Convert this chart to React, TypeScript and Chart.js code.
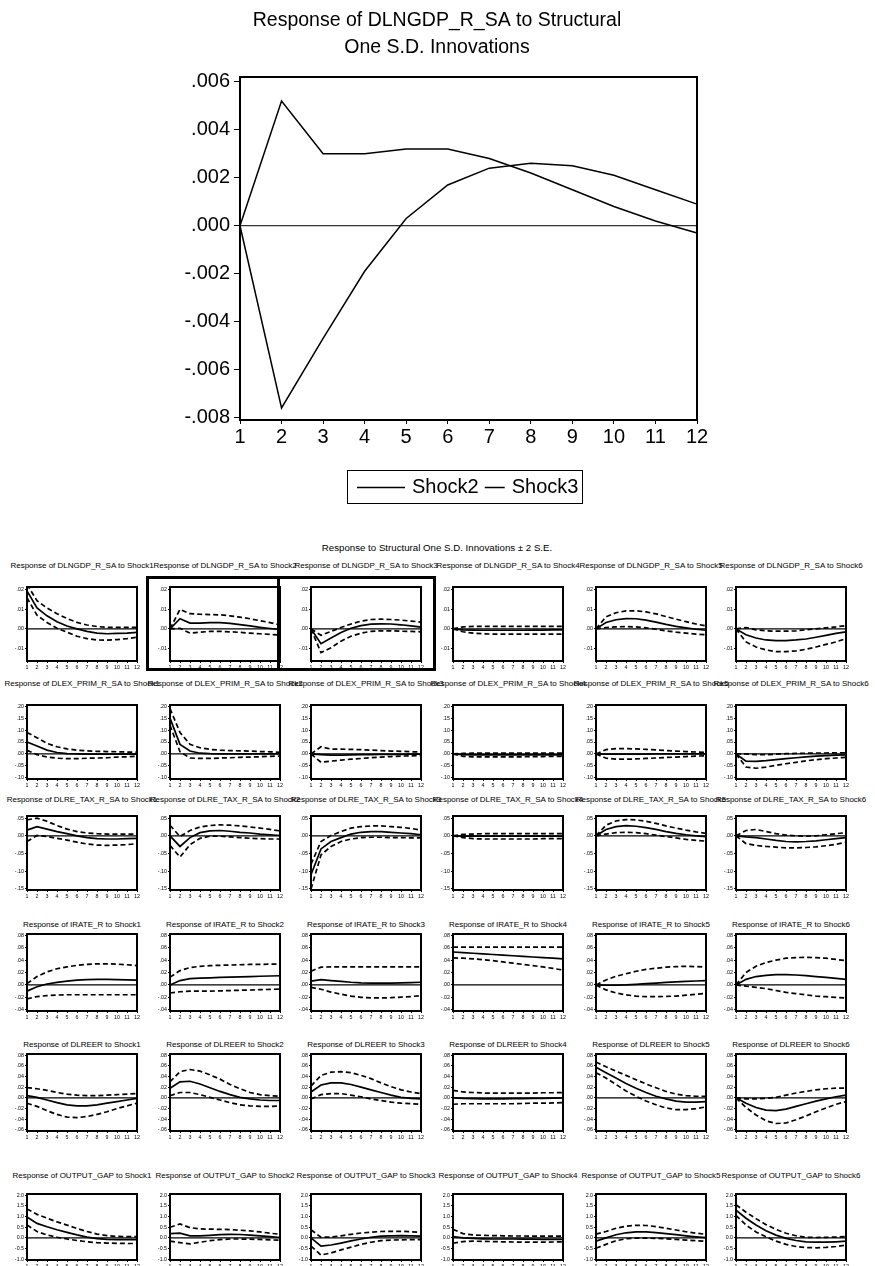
import React, { useEffect, useRef } from "react";
import { Chart, registerables } from "chart.js";

Chart.register(...registerables);

const FONT = '"Liberation Sans", Arial, Helvetica, sans-serif';

// Horizon (periods after the shock)
const periods = ["1", "2", "3", "4", "5", "6", "7", "8", "9", "10", "11", "12"];
const shockNames = ["Shock1", "Shock2", "Shock3", "Shock4", "Shock5", "Shock6"];
const responseVars = ["DLNGDP_R_SA", "DLEX_PRIM_R_SA", "DLRE_TAX_R_SA", "IRATE_R", "DLREER", "OUTPUT_GAP"];

// ---- DLNGDP_R_SA responses (point estimate, +2 S.E., -2 S.E.), one row per shock
const gdpResp = [
  [0.0195, 0.0107, 0.0067, 0.0037, 0.0015, 0.0, -0.0013, -0.0022, -0.0025, -0.0023, -0.0022, -0.0018],
  [0, 0.0052, 0.003, 0.003, 0.0032, 0.0032, 0.0028, 0.0022, 0.0015, 0.0008, 0.0002, -0.0003],
  [0, -0.0076, -0.0047, -0.0019, 0.0003, 0.0017, 0.0024, 0.0026, 0.0025, 0.0021, 0.0015, 0.0009],
  [0, -0.0005, -0.0006, -0.0007, -0.0007, -0.0007, -0.0007, -0.0007, -0.0006, -0.0006, -0.0005, -0.0005],
  [0, 0.0033, 0.0047, 0.0053, 0.0052, 0.0045, 0.0035, 0.0023, 0.0013, 0.0005, -0.0002, -0.0007],
  [0, -0.003, -0.0047, -0.0057, -0.006, -0.006, -0.0057, -0.0052, -0.0043, -0.0033, -0.0023, -0.0015],
];
const gdpUpper = [
  [0.0228, 0.0145, 0.0107, 0.0078, 0.0053, 0.0033, 0.002, 0.0012, 0.0008, 0.0008, 0.0008, 0.0008],
  [0, 0.01, 0.0078, 0.0075, 0.0073, 0.0072, 0.0067, 0.006, 0.0052, 0.0042, 0.0032, 0.002],
  [0, -0.0033, -0.0013, 0.0007, 0.0025, 0.004, 0.0048, 0.005, 0.0048, 0.0045, 0.004, 0.0035],
  [0, 0.001, 0.0013, 0.0013, 0.0013, 0.0013, 0.0013, 0.0013, 0.0013, 0.0013, 0.0013, 0.0013],
  [0, 0.0062, 0.0083, 0.0092, 0.0093, 0.0087, 0.0077, 0.0063, 0.005, 0.0037, 0.0025, 0.0015],
  [0, 0.0007, -0.0005, -0.001, -0.0012, -0.0012, -0.001, -0.0005, 0, 0.0005, 0.001, 0.0017],
];
const gdpLower = [
  [0.016, 0.007, 0.0033, 0.0003, -0.0017, -0.0038, -0.005, -0.0057, -0.0058, -0.0055, -0.005, -0.0043],
  [0, 0.0003, -0.0022, -0.0017, -0.0013, -0.0013, -0.0015, -0.0018, -0.0022, -0.0025, -0.0028, -0.0032],
  [0, -0.0122, -0.0097, -0.0063, -0.0038, -0.0022, -0.0013, -0.001, -0.001, -0.0012, -0.0013, -0.0015],
  [0, -0.0015, -0.0022, -0.0025, -0.0027, -0.0027, -0.0027, -0.0027, -0.0027, -0.0027, -0.0027, -0.0027],
  [0, 0.0007, 0.001, 0.0012, 0.001, 0.0005, -0.0002, -0.001, -0.0017, -0.0022, -0.0027, -0.003],
  [0, -0.0067, -0.0093, -0.0108, -0.0117, -0.0117, -0.0113, -0.0105, -0.0093, -0.008, -0.0067, -0.005],
];

// ---- DLEX_PRIM_R_SA
const exResp = [
  [0.05, 0.033, 0.016, 0.006, 0.001, 0, -0.001, -0.001, -0.001, -0.001, -0.001, -0.001],
  [0.15, 0.04, 0.012, 0.003, 0.001, 0, 0, 0, 0, 0, 0, 0],
  [0, -0.003, -0.005, -0.005, -0.004, -0.003, -0.003, -0.002, -0.002, -0.002, -0.001, -0.001],
  [0, -0.003, -0.004, -0.004, -0.004, -0.004, -0.004, -0.004, -0.004, -0.004, -0.004, -0.004],
  [0, -0.001, -0.001, -0.001, -0.001, -0.001, 0, 0, 0, 0, 0, 0],
  [0, -0.03, -0.031, -0.028, -0.024, -0.02, -0.016, -0.012, -0.009, -0.007, -0.005, -0.004],
];
const exUpper = [
  [0.09, 0.068, 0.044, 0.03, 0.021, 0.016, 0.013, 0.011, 0.01, 0.009, 0.008, 0.007],
  [0.19, 0.09, 0.04, 0.026, 0.019, 0.016, 0.014, 0.013, 0.012, 0.01, 0.009, 0.007],
  [0, 0.03, 0.02, 0.02, 0.019, 0.018, 0.016, 0.014, 0.012, 0.011, 0.009, 0.008],
  [0, 0.002, 0.003, 0.003, 0.003, 0.003, 0.003, 0.003, 0.003, 0.003, 0.003, 0.003],
  [0, 0.018, 0.022, 0.022, 0.021, 0.019, 0.017, 0.014, 0.012, 0.01, 0.008, 0.006],
  [0, 0, -0.003, -0.003, -0.001, 0.001, 0.002, 0.003, 0.004, 0.004, 0.005, 0.005],
];
const exLower = [
  [0.015, -0.003, -0.013, -0.018, -0.02, -0.02, -0.018, -0.017, -0.016, -0.013, -0.012, -0.01],
  [0.12, 0.009, -0.017, -0.019, -0.019, -0.017, -0.016, -0.014, -0.013, -0.012, -0.01, -0.009],
  [0, -0.035, -0.03, -0.026, -0.022, -0.019, -0.016, -0.013, -0.011, -0.009, -0.008, -0.007],
  [0, -0.01, -0.012, -0.012, -0.012, -0.012, -0.012, -0.012, -0.011, -0.011, -0.01, -0.01],
  [0, -0.018, -0.022, -0.022, -0.021, -0.019, -0.017, -0.015, -0.013, -0.011, -0.009, -0.008],
  [0, -0.055, -0.06, -0.055, -0.048, -0.041, -0.035, -0.029, -0.024, -0.02, -0.017, -0.014],
];

// ---- DLRE_TAX_R_SA
const taxResp = [
  [0.016, 0.026, 0.019, 0.012, 0.006, 0, -0.005, -0.008, -0.009, -0.009, -0.008, -0.007],
  [0, -0.03, -0.005, 0.009, 0.014, 0.015, 0.013, 0.01, 0.008, 0.005, 0.003, 0.001],
  [-0.11, -0.037, -0.016, -0.005, 0.005, 0.01, 0.012, 0.012, 0.01, 0.008, 0.006, 0.003],
  [0, -0.001, -0.001, -0.001, -0.001, -0.001, -0.001, -0.001, -0.001, -0.001, -0.001, -0.001],
  [0, 0.018, 0.026, 0.029, 0.027, 0.023, 0.018, 0.012, 0.007, 0.003, 0, -0.002],
  [0, -0.003, -0.005, -0.009, -0.013, -0.016, -0.017, -0.016, -0.014, -0.011, -0.008, -0.005],
];
const taxUpper = [
  [0.045, 0.05, 0.041, 0.029, 0.019, 0.012, 0.008, 0.006, 0.005, 0.005, 0.005, 0.005],
  [0.03, -0.002, 0.015, 0.025, 0.029, 0.031, 0.03, 0.028, 0.025, 0.022, 0.018, 0.014],
  [-0.08, -0.016, 0.001, 0.012, 0.022, 0.026, 0.028, 0.028, 0.026, 0.024, 0.021, 0.016],
  [0, 0.004, 0.005, 0.006, 0.006, 0.006, 0.006, 0.006, 0.006, 0.006, 0.006, 0.006],
  [0, 0.03, 0.042, 0.046, 0.045, 0.041, 0.035, 0.028, 0.022, 0.016, 0.011, 0.007],
  [0, 0.015, 0.018, 0.012, 0.006, 0.002, 0, -0.001, 0, 0.003, 0.006, 0.009],
];
const taxLower = [
  [-0.016, 0.001, -0.002, -0.007, -0.012, -0.018, -0.023, -0.026, -0.027, -0.026, -0.025, -0.022],
  [-0.027, -0.06, -0.025, -0.007, -0.001, -0.001, -0.003, -0.005, -0.007, -0.008, -0.009, -0.009],
  [-0.15, -0.054, -0.03, -0.016, -0.009, -0.005, -0.004, -0.004, -0.005, -0.005, -0.006, -0.006],
  [0, -0.005, -0.008, -0.009, -0.009, -0.009, -0.009, -0.009, -0.009, -0.008, -0.008, -0.008],
  [0, 0.005, 0.009, 0.01, 0.009, 0.006, 0.002, -0.002, -0.006, -0.01, -0.013, -0.015],
  [0, -0.022, -0.027, -0.03, -0.032, -0.034, -0.034, -0.033, -0.031, -0.028, -0.024, -0.018],
];

// ---- IRATE_R
const rateResp = [
  [-0.01, -0.003, 0.0015, 0.004, 0.006, 0.0077, 0.0086, 0.009, 0.009, 0.0086, 0.008, 0.0077],
  [0, 0.007, 0.01, 0.011, 0.0115, 0.012, 0.0125, 0.013, 0.0134, 0.014, 0.0144, 0.0148],
  [0.006, 0.0086, 0.007, 0.0057, 0.0043, 0.0033, 0.0029, 0.0029, 0.0029, 0.0033, 0.0038, 0.0043],
  [0.053, 0.052, 0.051, 0.05, 0.049, 0.048, 0.047, 0.046, 0.045, 0.044, 0.043, 0.042],
  [0, -0.0005, -0.0005, 0, 0.001, 0.002, 0.003, 0.004, 0.005, 0.0057, 0.0063, 0.007],
  [0, 0.009, 0.0135, 0.0155, 0.0165, 0.0165, 0.016, 0.015, 0.0135, 0.012, 0.0105, 0.009],
];
const rateUpper = [
  [0.002, 0.0134, 0.021, 0.026, 0.029, 0.0316, 0.033, 0.034, 0.034, 0.0335, 0.0325, 0.031],
  [0.0125, 0.023, 0.028, 0.03, 0.031, 0.0316, 0.032, 0.0325, 0.033, 0.033, 0.0335, 0.0335],
  [0.022, 0.0287, 0.029, 0.029, 0.029, 0.029, 0.029, 0.029, 0.029, 0.029, 0.029, 0.029],
  [0.061, 0.061, 0.061, 0.061, 0.061, 0.061, 0.061, 0.061, 0.061, 0.061, 0.061, 0.061],
  [0, 0.008, 0.014, 0.018, 0.022, 0.025, 0.027, 0.0285, 0.0295, 0.03, 0.0295, 0.029],
  [0, 0.02, 0.03, 0.036, 0.04, 0.043, 0.044, 0.0445, 0.044, 0.043, 0.041, 0.039],
];
const rateLower = [
  [-0.0225, -0.0187, -0.0172, -0.0163, -0.0158, -0.0158, -0.0158, -0.0158, -0.0158, -0.0158, -0.0158, -0.0158],
  [-0.013, -0.011, -0.01, -0.01, -0.01, -0.0096, -0.0091, -0.0086, -0.0082, -0.0077, -0.0072, -0.0067],
  [-0.004, -0.007, -0.0115, -0.015, -0.018, -0.02, -0.021, -0.021, -0.0206, -0.0196, -0.0187, -0.0172],
  [0.0435, 0.043, 0.042, 0.0405, 0.039, 0.037, 0.035, 0.033, 0.031, 0.029, 0.0265, 0.024],
  [0, -0.008, -0.013, -0.016, -0.018, -0.019, -0.019, -0.0185, -0.018, -0.0165, -0.015, -0.0135],
  [0, -0.002, -0.004, -0.006, -0.009, -0.012, -0.014, -0.016, -0.018, -0.019, -0.02, -0.021],
];

// ---- DLREER
const reerResp = [
  [0.004, 0.001, -0.004, -0.009, -0.013, -0.015, -0.015, -0.013, -0.01, -0.007, -0.004, -0.001],
  [0.018, 0.03, 0.031, 0.026, 0.019, 0.012, 0.006, 0.001, -0.002, -0.004, -0.005, -0.005],
  [0.011, 0.024, 0.028, 0.028, 0.025, 0.02, 0.015, 0.01, 0.005, 0.001, -0.001, -0.002],
  [0, -0.001, -0.0015, -0.002, -0.002, -0.002, -0.0015, -0.0015, -0.001, -0.001, -0.0005, 0],
  [0.057, 0.047, 0.037, 0.027, 0.018, 0.01, 0.003, -0.002, -0.006, -0.008, -0.008, -0.007],
  [0, -0.01, -0.018, -0.023, -0.024, -0.021, -0.016, -0.011, -0.006, -0.002, 0.002, 0.005],
];
const reerUpper = [
  [0.019, 0.017, 0.014, 0.01, 0.007, 0.005, 0.004, 0.004, 0.005, 0.006, 0.007, 0.008],
  [0.03, 0.049, 0.053, 0.05, 0.043, 0.035, 0.025, 0.017, 0.01, 0.006, 0.004, 0.003],
  [0.022, 0.042, 0.048, 0.049, 0.047, 0.042, 0.036, 0.028, 0.021, 0.015, 0.011, 0.008],
  [0.014, 0.011, 0.01, 0.009, 0.009, 0.009, 0.009, 0.009, 0.009, 0.0095, 0.0095, 0.01],
  [0.067, 0.058, 0.05, 0.042, 0.034, 0.026, 0.019, 0.012, 0.007, 0.004, 0.003, 0.003],
  [0, -0.002, -0.002, -0.001, 0.001, 0.005, 0.009, 0.012, 0.015, 0.017, 0.018, 0.018],
];
const reerLower = [
  [-0.01, -0.016, -0.024, -0.031, -0.036, -0.037, -0.035, -0.031, -0.026, -0.02, -0.015, -0.01],
  [0.004, 0.01, 0.01, 0.006, 0.001, -0.004, -0.009, -0.013, -0.015, -0.016, -0.016, -0.015],
  [-0.002, 0.006, 0.008, 0.008, 0.005, 0.002, -0.002, -0.005, -0.008, -0.01, -0.011, -0.012],
  [-0.012, -0.011, -0.011, -0.011, -0.011, -0.011, -0.011, -0.0105, -0.01, -0.01, -0.0095, -0.009],
  [0.047, 0.037, 0.025, 0.013, 0.003, -0.006, -0.013, -0.019, -0.022, -0.022, -0.02, -0.017],
  [0, -0.018, -0.032, -0.043, -0.048, -0.047, -0.041, -0.034, -0.026, -0.019, -0.012, -0.007],
];

// ---- OUTPUT_GAP
const gapResp = [
  [0.98, 0.68, 0.52, 0.38, 0.26, 0.14, 0.04, -0.03, -0.07, -0.08, -0.08, -0.08],
  [0.2, 0.22, 0.1, 0.1, 0.12, 0.15, 0.17, 0.16, 0.13, 0.1, 0.06, 0.02],
  [0, -0.38, -0.33, -0.24, -0.14, -0.05, 0.03, 0.08, 0.1, 0.11, 0.1, 0.08],
  [0.06, 0.0, -0.02, -0.04, -0.05, -0.05, -0.05, -0.06, -0.06, -0.07, -0.07, -0.07],
  [-0.15, 0.0, 0.15, 0.24, 0.28, 0.28, 0.25, 0.2, 0.15, 0.1, 0.05, 0.01],
  [1.3, 0.92, 0.6, 0.33, 0.13, -0.02, -0.12, -0.18, -0.2, -0.2, -0.18, -0.15],
];
const gapUpper = [
  [1.35, 1.1, 0.92, 0.75, 0.6, 0.44, 0.3, 0.18, 0.11, 0.07, 0.06, 0.06],
  [0.5, 0.65, 0.48, 0.42, 0.41, 0.4, 0.39, 0.36, 0.33, 0.28, 0.22, 0.17],
  [0.38, 0.03, 0.04, 0.1, 0.17, 0.23, 0.27, 0.3, 0.31, 0.31, 0.29, 0.26],
  [0.4, 0.2, 0.14, 0.12, 0.11, 0.1, 0.09, 0.09, 0.08, 0.08, 0.08, 0.08],
  [0.18, 0.3, 0.45, 0.55, 0.59, 0.58, 0.53, 0.45, 0.37, 0.29, 0.22, 0.17],
  [1.55, 1.2, 0.9, 0.62, 0.4, 0.22, 0.1, 0.03, 0.02, 0.03, 0.04, 0.06],
];
const gapLower = [
  [0.6, 0.3, 0.14, 0.03, -0.05, -0.12, -0.18, -0.22, -0.24, -0.25, -0.26, -0.26],
  [-0.15, -0.22, -0.28, -0.2, -0.13, -0.08, -0.05, -0.05, -0.06, -0.07, -0.09, -0.11],
  [-0.38, -0.8, -0.7, -0.56, -0.43, -0.3, -0.2, -0.13, -0.1, -0.09, -0.08, -0.08],
  [-0.25, -0.17, -0.15, -0.16, -0.17, -0.18, -0.19, -0.2, -0.2, -0.2, -0.19, -0.18],
  [-0.48, -0.3, -0.13, -0.04, -0.01, -0.01, -0.02, -0.04, -0.07, -0.1, -0.13, -0.16],
  [1.05, 0.6, 0.28, 0.05, -0.15, -0.3, -0.4, -0.45, -0.46, -0.44, -0.4, -0.33],
];

// Tick values per response variable
const gdpTicks = [-0.01, 0, 0.01, 0.02];
const exTicks = [-0.1, -0.05, 0, 0.05, 0.1, 0.15, 0.2];
const taxTicks = [-0.15, -0.1, -0.05, 0, 0.05];
const rateTicks = [-0.04, -0.02, 0, 0.02, 0.04, 0.06, 0.08];
const reerTicks = [-0.06, -0.04, -0.02, 0, 0.02, 0.04, 0.06, 0.08];
const gapTicks = [-1.0, -0.5, 0, 0.5, 1.0, 1.5, 2.0];
const topTicks = [-0.008, -0.006, -0.004, -0.002, 0, 0.002, 0.004, 0.006];

const noLead = (d: number) => (v: number) => v.toFixed(d).replace(/^(-?)0\./, "$1.");
const keepLead = (d: number) => (v: number) => v.toFixed(d);

type RowSpec = {
  resp: number[][];
  upper: number[][];
  lower: number[][];
  ticks: number[];
  min: number;
  max: number;
  fmt: (v: number) => string;
};

const rows: RowSpec[] = [
  { resp: gdpResp, upper: gdpUpper, lower: gdpLower, ticks: gdpTicks, min: -0.0165, max: 0.0215, fmt: noLead(2) },
  { resp: exResp, upper: exUpper, lower: exLower, ticks: exTicks, min: -0.105, max: 0.205, fmt: noLead(2) },
  { resp: taxResp, upper: taxUpper, lower: taxLower, ticks: taxTicks, min: -0.153, max: 0.056, fmt: noLead(2) },
  { resp: rateResp, upper: rateUpper, lower: rateLower, ticks: rateTicks, min: -0.042, max: 0.082, fmt: noLead(2) },
  { resp: reerResp, upper: reerUpper, lower: reerLower, ticks: reerTicks, min: -0.062, max: 0.082, fmt: noLead(2) },
  { resp: gapResp, upper: gapUpper, lower: gapLower, ticks: gapTicks, min: -1.03, max: 2.05, fmt: keepLead(1) },
];

// Grid geometry (plot-area boxes of the small panels)
const colLeft = [27, 170, 311, 453, 596, 736];
const plotW = 110;
const rowTop = [587, 705, 816, 934, 1054, 1194];
const rowH = [74, 74, 74, 77, 77, 66];
const titleY = [566, 684, 800, 925, 1045, 1176];
const AX_W = 24;
const AX_H = 11;
const PAD_T = 4;
const PAD_R = 4;

const framePlugin = {
  id: "frame",
  afterDatasetsDraw(chart: any, _args: any, opts: any) {
    const { ctx, chartArea: a } = chart;
    ctx.save();
    ctx.strokeStyle = "#000";
    ctx.lineWidth = opts.width || 2;
    ctx.strokeRect(a.left, a.top, a.right - a.left, a.bottom - a.top);
    ctx.restore();
  },
};

const zeroPlugin = {
  id: "zeroLine",
  beforeDatasetsDraw(chart: any, _args: any, opts: any) {
    const { ctx, chartArea: a, scales } = chart;
    const y = scales.y.getPixelForValue(0);
    ctx.save();
    ctx.strokeStyle = "#000";
    ctx.lineWidth = opts.width || 1;
    ctx.beginPath();
    ctx.moveTo(a.left, y);
    ctx.lineTo(a.right, y);
    ctx.stroke();
    ctx.restore();
  },
};

function IrfPanel({ row, col }: { row: number; col: number }) {
  const ref = useRef<HTMLCanvasElement>(null);
  const w = AX_W + plotW + PAD_R;
  const h = PAD_T + rowH[row] + AX_H;
  useEffect(() => {
    const spec = rows[row];
    const dashed = { borderColor: "#000", borderWidth: 1.7, borderDash: [5, 3], pointRadius: 0, tension: 0, fill: false };
    const chart = new Chart(ref.current as HTMLCanvasElement, {
      type: "line",
      data: {
        labels: periods,
        datasets: [
          { label: "+2 S.E.", data: spec.upper[col], ...dashed },
          { label: shockNames[col], data: spec.resp[col], borderColor: "#000", borderWidth: 1.7, pointRadius: 0, tension: 0, fill: false },
          { label: "-2 S.E.", data: spec.lower[col], ...dashed },
        ],
      },
      options: {
        animation: false,
        responsive: false,
        devicePixelRatio: 1,
        events: [],
        layout: { padding: { top: PAD_T, right: PAD_R, left: 0, bottom: 0 } },
        plugins: { legend: { display: false }, tooltip: { enabled: false }, frame: { width: 2 }, zeroLine: { width: 1.2 } } as any,
        scales: {
          x: {
            type: "category",
            offset: false,
            grid: { display: true, drawOnChartArea: false, drawTicks: true, tickLength: 2, color: "#000" },
            border: { display: false },
            ticks: { color: "#000", font: { family: FONT, size: 5.3 }, autoSkip: false, maxRotation: 0, padding: 1 },
            afterFit: (s: any) => {
              s.height = AX_H;
              s.paddingLeft = 0;
              s.paddingRight = 0;
            },
          },
          y: {
            min: spec.min,
            max: spec.max,
            grid: { display: true, drawOnChartArea: false, drawTicks: true, tickLength: 2, color: "#000" },
            border: { display: false },
            ticks: { color: "#000", font: { family: FONT, size: 5.3 }, padding: 1, callback: (v: any) => spec.fmt(Number(v)) },
            afterBuildTicks: (s: any) => {
              s.ticks = spec.ticks.map((v) => ({ value: v }));
            },
            afterFit: (s: any) => {
              s.width = AX_W;
              s.paddingTop = 0;
              s.paddingBottom = 0;
            },
          },
        },
      },
      plugins: [framePlugin, zeroPlugin],
    });
    return () => chart.destroy();
  }, [row, col]);
  return (
    <canvas
      ref={ref}
      width={w}
      height={h}
      style={{ position: "absolute", left: colLeft[col] - AX_W, top: rowTop[row] - PAD_T, width: w, height: h }}
    />
  );
}

// Heading and boxed legend of the large chart
const headingPlugin = {
  id: "heading",
  afterDraw(chart: any, _args: any, opts: any) {
    const { ctx } = chart;
    ctx.save();
    ctx.fillStyle = "#000";
    ctx.font = `19.5px ${FONT}`;
    ctx.textAlign = "center";
    ctx.textBaseline = "middle";
    opts.lines.forEach((t: string, i: number) => ctx.fillText(t, opts.x, opts.y + i * 27));
    ctx.restore();
  },
};

const boxLegendPlugin = {
  id: "boxLegend",
  afterDraw(chart: any, _args: any, opts: any) {
    const { ctx } = chart;
    const { x, y, w, h, sampleWidths } = opts;
    ctx.save();
    ctx.strokeStyle = "#000";
    ctx.lineWidth = 1;
    ctx.strokeRect(x + 0.5, y + 0.5, w, h);
    ctx.font = `20px ${FONT}`;
    ctx.textBaseline = "middle";
    ctx.fillStyle = "#000";
    let cx = x + 10;
    const cy = y + h / 2 + 1;
    chart.data.datasets.forEach((ds: any, i: number) => {
      const sw = sampleWidths[i];
      ctx.strokeStyle = ds.borderColor;
      ctx.lineWidth = 1.5;
      ctx.beginPath();
      ctx.moveTo(cx, cy);
      ctx.lineTo(cx + sw, cy);
      ctx.stroke();
      cx += sw + 7;
      ctx.fillText(ds.label, cx, cy);
      cx += ctx.measureText(ds.label).width + 6;
    });
    ctx.restore();
  },
};

function TopChart() {
  const ref = useRef<HTMLCanvasElement>(null);
  useEffect(() => {
    const chart = new Chart(ref.current as HTMLCanvasElement, {
      type: "line",
      data: {
        labels: periods,
        datasets: [
          { label: "Shock2", data: gdpResp[1], borderColor: "#000", borderWidth: 1.5, pointRadius: 0, tension: 0 },
          { label: "Shock3", data: gdpResp[2], borderColor: "#000", borderWidth: 1.5, pointRadius: 0, tension: 0 },
        ],
      },
      options: {
        animation: false,
        responsive: false,
        devicePixelRatio: 1,
        events: [],
        layout: { padding: { top: 77, right: 178, left: 0, bottom: 70 } },
        plugins: {
          legend: { display: false },
          tooltip: { enabled: false },
          frame: { width: 2 },
          zeroLine: { width: 1 },
          heading: { lines: ["Response of DLNGDP_R_SA to Structural", "One S.D. Innovations"], x: 437, y: 21 },
          boxLegend: { x: 347, y: 470, w: 235, h: 33, sampleWidths: [48, 20] },
        } as any,
        scales: {
          x: {
            type: "category",
            offset: false,
            grid: { display: true, drawOnChartArea: false, drawTicks: true, tickLength: 4, color: "#000" },
            border: { display: false },
            ticks: { color: "#000", font: { family: FONT, size: 20 }, autoSkip: false, maxRotation: 0, padding: 1 },
            afterFit: (s: any) => {
              s.height = 30;
              s.paddingLeft = 0;
              s.paddingRight = 0;
            },
          },
          y: {
            min: -0.0081,
            max: 0.0062,
            grid: { display: true, drawOnChartArea: false, drawTicks: true, tickLength: 6, color: "#000" },
            border: { display: false },
            ticks: { color: "#000", font: { family: FONT, size: 20 }, padding: 4, callback: (v: any) => noLead(3)(Number(v)) },
            afterBuildTicks: (s: any) => {
              s.ticks = topTicks.map((v) => ({ value: v }));
            },
            afterFit: (s: any) => {
              s.width = 240;
              s.paddingTop = 0;
              s.paddingBottom = 0;
            },
          },
        },
      },
      plugins: [framePlugin, zeroPlugin, headingPlugin, boxLegendPlugin],
    });
    return () => chart.destroy();
  }, []);
  return <canvas ref={ref} width={875} height={520} style={{ position: "absolute", left: 0, top: 0, width: 875, height: 520 }} />;
}

export default function App() {
  const titleStyle = (x: number, y: number, size: number): React.CSSProperties => ({
    position: "absolute",
    left: x,
    top: y,
    transform: "translate(-50%, -50%)",
    whiteSpace: "nowrap",
    fontFamily: FONT,
    fontSize: size,
    lineHeight: "12px",
    color: "#000",
  });
  return (
    <div style={{ position: "absolute", left: 0, top: 0, width: 875, height: 1266, background: "#fff", overflow: "hidden" }}>
      <TopChart />
      <div style={titleStyle(437, 548, 9.7)}>Response to Structural One S.D. Innovations ± 2 S.E.</div>
      {responseVars.map((v, r) =>
        shockNames.map((s, c) => (
          <React.Fragment key={`${r}-${c}`}>
            <div style={titleStyle(colLeft[c] + plotW / 2, titleY[r], 8)}>{`Response of ${v} to ${s}`}</div>
            <IrfPanel row={r} col={c} />
          </React.Fragment>
        ))
      )}
      {/* selection frame around the Shock2 and Shock3 panels of the first row */}
      <div style={{ position: "absolute", left: 146, top: 576, width: 134, height: 95, border: "3px solid #000", boxSizing: "border-box" }} />
      <div style={{ position: "absolute", left: 277, top: 576, width: 159, height: 95, border: "3px solid #000", boxSizing: "border-box" }} />
    </div>
  );
}
